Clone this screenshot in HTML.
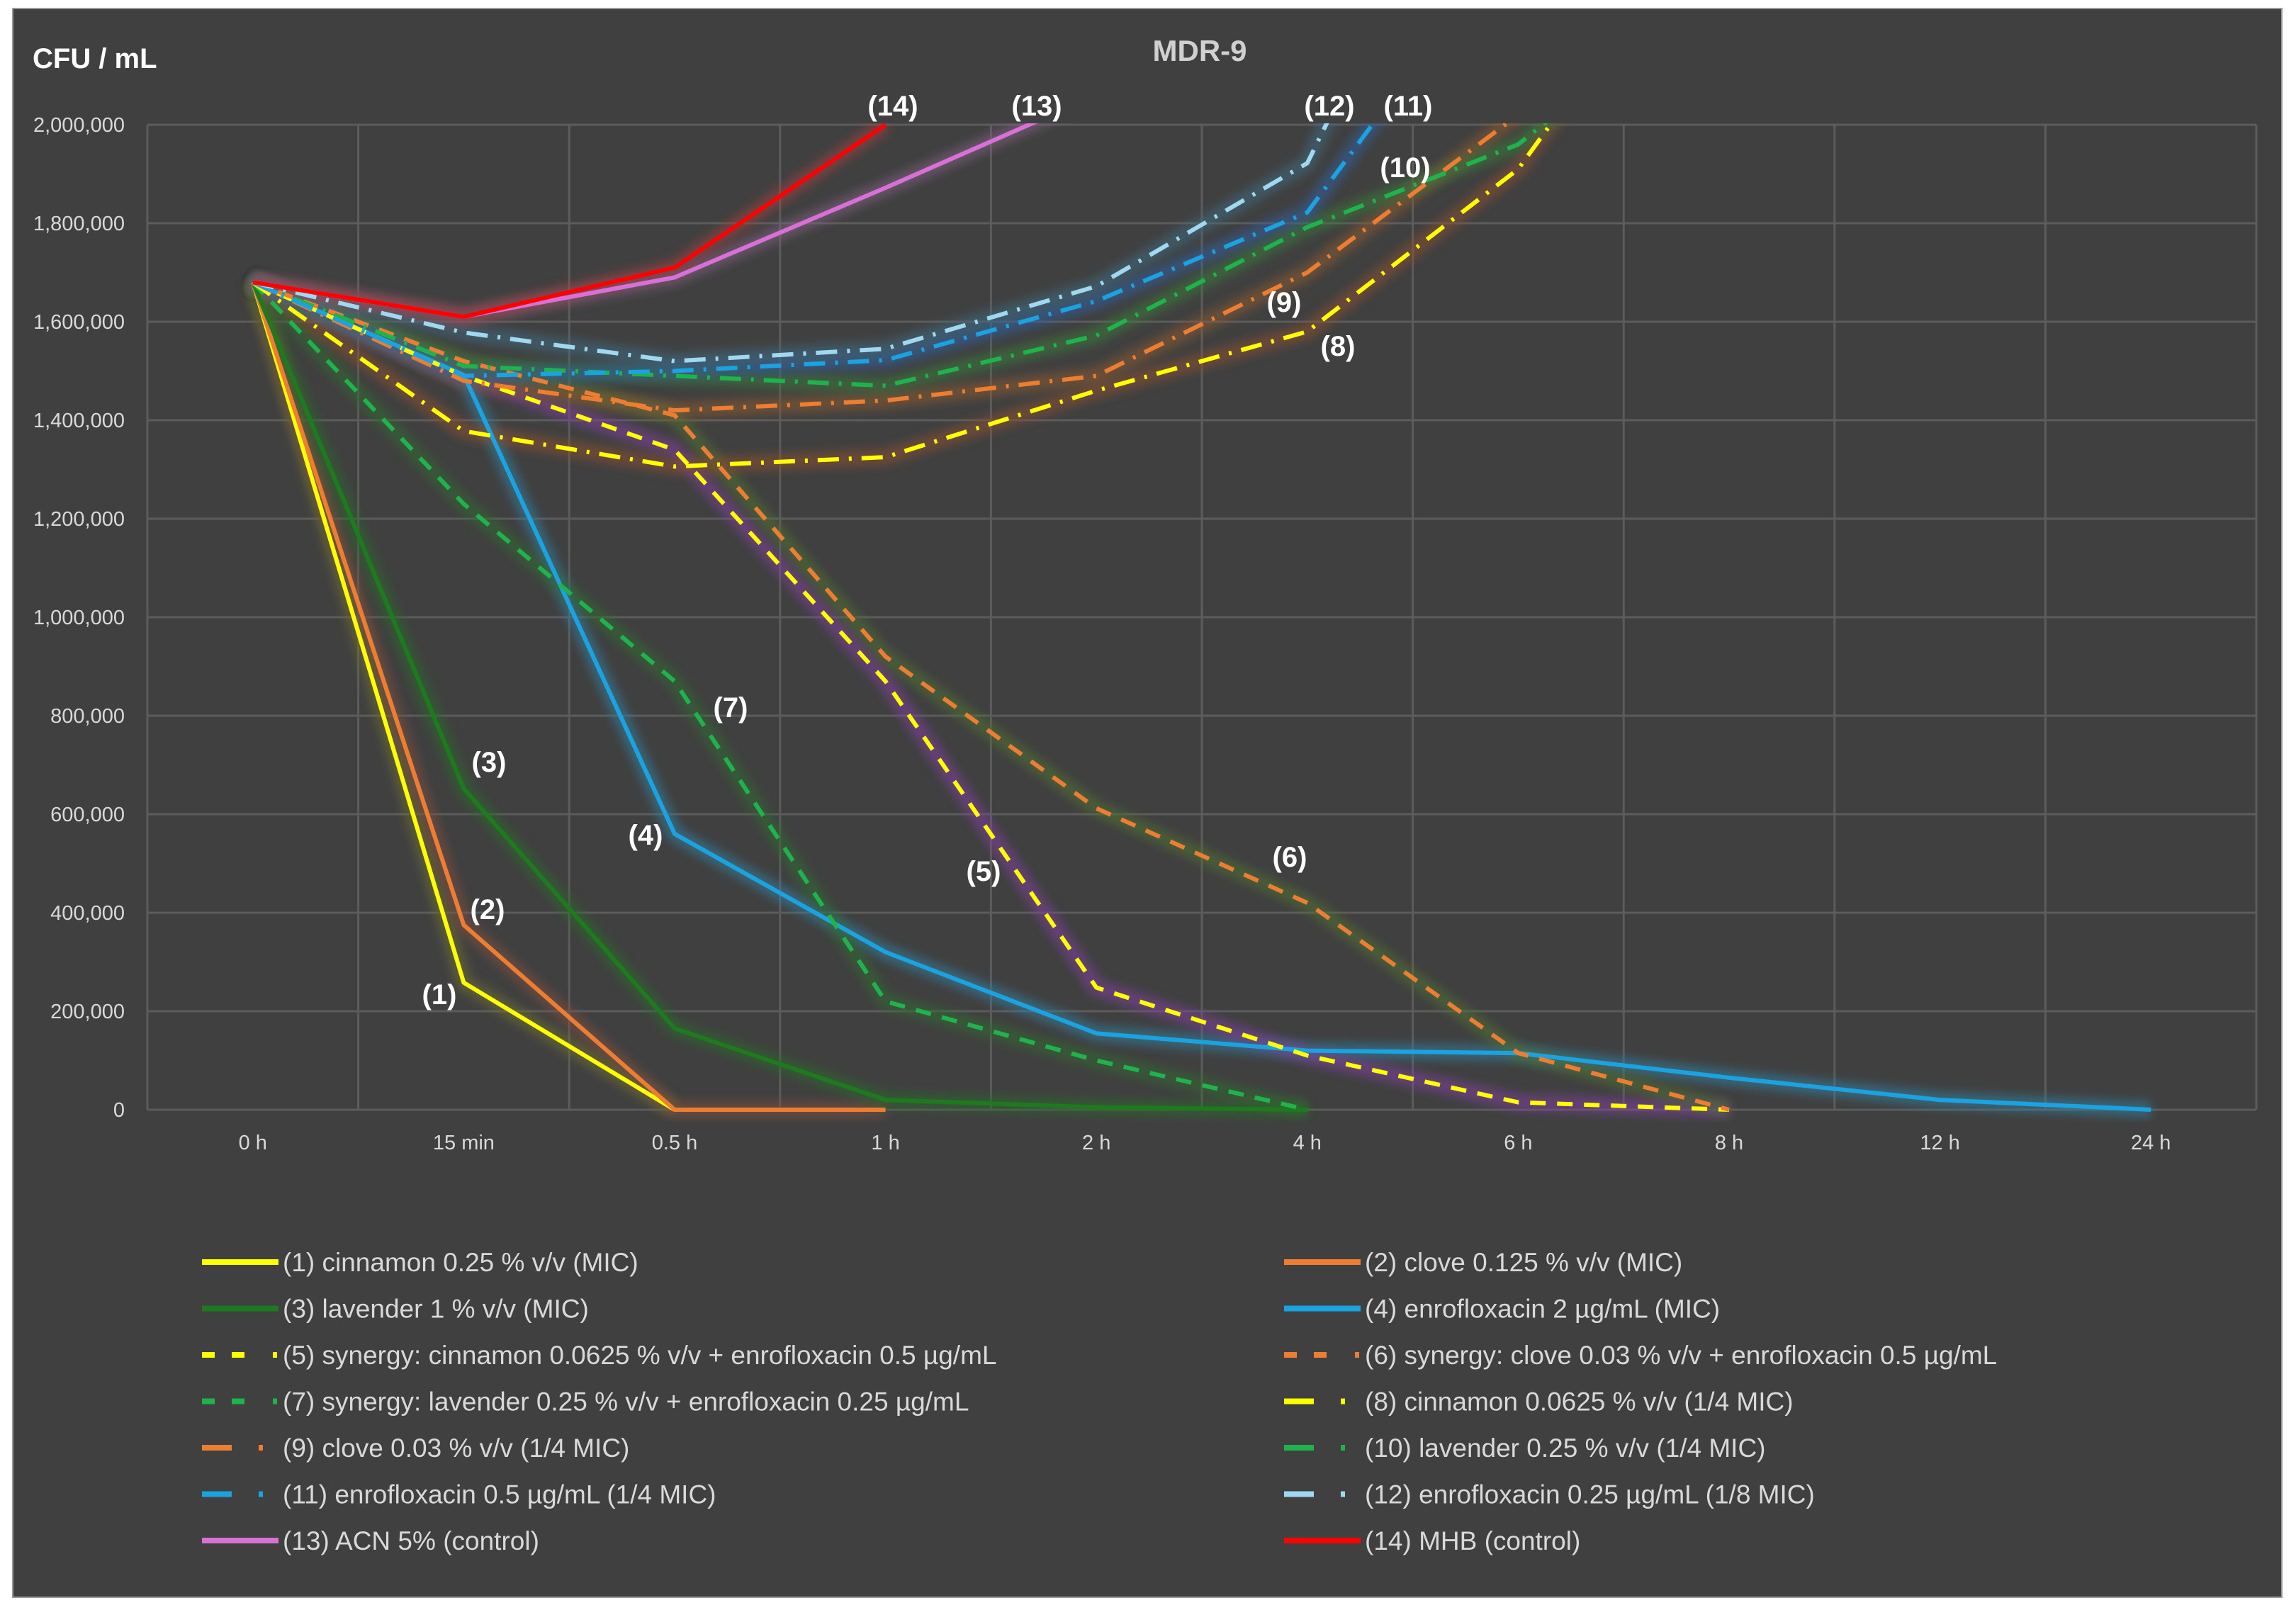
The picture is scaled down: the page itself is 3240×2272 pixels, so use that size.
<!DOCTYPE html>
<html><head><meta charset="utf-8"><style>
html,body{margin:0;padding:0;background:#fff;}
svg{display:block;font-family:"Liberation Sans",sans-serif;}
</style></head><body>
<svg id="chart" width="3240" height="2272" viewBox="0 0 3240 2272" xmlns="http://www.w3.org/2000/svg">
<defs>
<filter id="glow" x="-20%" y="-20%" width="140%" height="140%"><feGaussianBlur stdDeviation="7"/></filter>
<clipPath id="plotclip"><rect x="208" y="174" width="2980" height="1410"/></clipPath>
</defs>
<rect x="0" y="0" width="3240" height="2272" fill="#ffffff"/>
<rect x="18" y="12" width="3202" height="2242" fill="#404040" stroke="#9a9a9a" stroke-width="2"/>
<text x="1693" y="86" fill="#d0d0d0" font-size="42" font-weight="bold" text-anchor="middle">MDR-9</text>
<text x="46" y="96" fill="#ffffff" font-size="40" font-weight="bold">CFU / mL</text>
<g id="grid"></g>
<g id="ticks"></g>
<g id="glows" clip-path="url(#plotclip)"></g>
<g id="series" clip-path="url(#plotclip)"></g>
<g id="labels"></g>
<g id="legend"></g>
</svg>
<script>
const categories=["0 h","15 min","0.5 h","1 h","2 h","4 h","6 h","8 h","12 h","24 h"];
const yTicks=[0,200000,400000,600000,800000,1000000,1200000,1400000,1600000,1800000,2000000];
const s1=[1680000,258000,0];
const s2=[1680000,375000,0,0];
const s3=[1680000,652000,165000,20000,5000,0];
const s4=[1680000,1492000,560000,320000,155000,120000,115000,65000,20000,0];
const s5=[1680000,1490000,1340000,870000,248000,110000,15000,0];
const s6=[1680000,1520000,1410000,920000,612000,420000,115000,0];
const s7=[1680000,1230000,870000,220000,100000,0];
const s8=[1680000,1378000,1306000,1325000,1460000,1580000,1910000,2500000];
const s9=[1680000,1480000,1420000,1440000,1490000,1700000,2020000,2400000];
const s10=[1680000,1510000,1490000,1470000,1572000,1792000,1960000,2300000];
const s11=[1680000,1490000,1500000,1522000,1642000,1822000,2400000];
const s12=[1680000,1578000,1520000,1545000,1672000,1922000,2800000];
const s13=[1680000,1610000,1690000,1872000,2060000];
const s14=[1680000,1610000,1710000,2000000];
const seriesNames=["(1) cinnamon 0.25 % v/v (MIC)","(2) clove 0.125 % v/v (MIC)","(3) lavender 1 % v/v (MIC)","(4) enrofloxacin 2 µg/mL (MIC)","(5) synergy: cinnamon 0.0625 % v/v +  enrofloxacin 0.5 µg/mL","(6) synergy: clove 0.03 % v/v +  enrofloxacin 0.5 µg/mL","(7) synergy: lavender 0.25 % v/v + enrofloxacin 0.25 µg/mL","(8) cinnamon 0.0625 % v/v (1/4 MIC)","(9) clove 0.03 % v/v (1/4 MIC)","(10) lavender 0.25 % v/v (1/4 MIC)","(11) enrofloxacin 0.5 µg/mL (1/4 MIC)","(12) enrofloxacin 0.25 µg/mL (1/8 MIC)","(13) ACN 5% (control)","(14) MHB (control)"];
const seriesData=[s1,s2,s3,s4,s5,s6,s7,s8,s9,s10,s11,s12,s13,s14];
const colors=["#ffff00","#ed7d31","#1e7a1e","#1aa3e0","#ffff00","#ed7d31","#1fb34d","#ffff00","#ed7d31","#1fb34d","#1aa3e0","#9fd8f0","#d870d8","#ff0000"];
const glowColors=["#707030","#805040","#2a6a2a","#3080a0","#8040a0","#507030","#306a30","#8a5030","#8a5a30","#3a7a3a","#3060a0","#406a80","#806080","#a04040"];
const styles=["solid","solid","solid","solid","dash","dash","dash","dashdot","dashdot","dashdot","dashdot","dashdot","solid","solid"];
const labelTexts=["(1)","(2)","(3)","(4)","(5)","(6)","(7)","(8)","(9)","(10)","(11)","(12)","(13)","(14)"];
const NS="http://www.w3.org/2000/svg";
const PL=208,PR=3184,PT=176,PB=1566,YMAX=2000000;
const cw=(PR-PL)/categories.length;
function xPos(i){return PL+cw*(i+0.5);}
function yPos(v){return PB-(v/YMAX)*(PB-PT);}
function mk(tag,attrs,parent){const e=document.createElementNS(NS,tag);for(const k in attrs)e.setAttribute(k,attrs[k]);parent.appendChild(e);return e;}
const grid=document.getElementById('grid'),ticks=document.getElementById('ticks');
yTicks.forEach((v,i)=>{
  const l=mk('line',{x1:PL,x2:PR,y1:yPos(v),y2:yPos(v),stroke:'#5c5c5c','stroke-width':3},grid);
  
  
  const t=mk('text',{x:176,y:yPos(v)+10,fill:'#d9d9d9','font-size':29,'text-anchor':'end'},ticks);
  t.textContent=v.toLocaleString('en-US');
  
  
});
for(let i=0;i<=categories.length;i++){
  const x=PL+cw*i;
  const l=mk('line',{x1:x,x2:x,y1:PT,y2:PB,stroke:'#5c5c5c','stroke-width':3},grid);
  
  
}
categories.forEach((c,i)=>{
  const t=mk('text',{x:xPos(i),y:1622,fill:'#d9d9d9','font-size':29,'text-anchor':'middle'},ticks);
  t.textContent=c;
  
  
});
function dashFor(s){return s==='dash'?'22 16':(s==='dashdot'?'30 14 4 14':'none');}
const glows=document.getElementById('glows'),ser=document.getElementById('series');
seriesData.forEach((d,si)=>{
  const pts=d.map((v,i)=>xPos(i)+','+yPos(v)).join(' ');
  const g=mk('polyline',{points:pts,fill:'none',stroke:glowColors[si],'stroke-width':22,'stroke-linejoin':'round',opacity:0.6,filter:'url(#glow)'},glows);
  
  
  const p=mk('polyline',{points:pts,fill:'none',stroke:colors[si],'stroke-width':6,'stroke-linejoin':'round','stroke-dasharray':dashFor(styles[si])},ser);
  
  
});
const labelPos=[[620,1403],[688,1283],[690,1075],[911,1178],[1388,1229],[1820,1209],[1031,998],[1888,488],[1812,426],[1983,236],[1987,149],[1876,149],[1463,149],[1260,149]];
const lab=document.getElementById('labels');
labelTexts.forEach((t,i)=>{
  const e=mk('text',{x:labelPos[i][0],y:labelPos[i][1]+14,fill:'#ffffff','font-size':40,'font-weight':'bold','text-anchor':'middle'},lab);
  e.textContent=t;
  
  
});
const leg=document.getElementById('legend');
seriesNames.forEach((n,i)=>{
  const col=i%2,row=Math.floor(i/2);
  const lx=col?1812:285,ty=1781+row*65.5;
  const g=mk('g',{},leg);
  
  
  let da=styles[i]==='dash'?'18 24 18 40 6 100':(styles[i]==='dashdot'?'42 38 6 100':'none');
  const ln=mk('line',{x1:lx,x2:lx+108,y1:ty,y2:ty,stroke:colors[i],'stroke-width':8,'stroke-dasharray':da},g);
  
  
  const t=mk('text',{x:lx+114,y:ty+13,fill:'#d9d9d9','font-size':37},g);
  t.textContent=n;
  
  
});
</script>
</body></html>
